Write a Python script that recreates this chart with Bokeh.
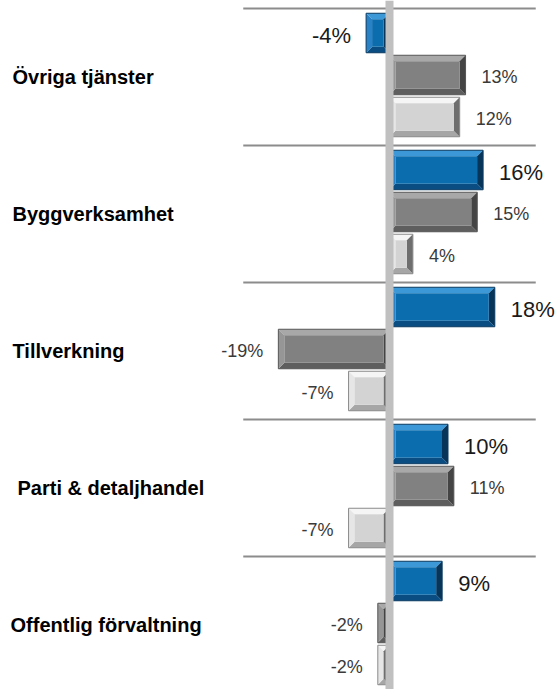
from bokeh.plotting import figure
from bokeh.models import ColumnDataSource, Range1d, Span
from bokeh.core.properties import value
from bokeh.embed import file_html
from bokeh.resources import INLINE

# ---------------- data ----------------
categories = ["Övriga tjänster", "Byggverksamhet", "Tillverkning",
              "Parti & detaljhandel", "Offentlig förvaltning"]
series_blue = [-4, 16, 18, 10, 9]
series_dark = [13, 15, -19, 11, -2]
series_light = [12, 4, -7, -7, -2]
all_series = [series_blue, series_dark, series_light]

# ---------------- layout / style ----------------
W, H = 555, 689
PX_PER_UNIT = 5.85          # px per percentage point
ZERO_PX = 389               # x pixel of zero inside the figure
BAND_PX = 137               # px per category band
TOP_PX = 8                  # px of the first band's top
x_start = -ZERO_PX / PX_PER_UNIT
x_end = x_start + W / PX_PER_UNIT
y_top = -TOP_PX / BAND_PX
y_bottom = (H - TOP_PX) / BAND_PX

OFF0, STEP, BAR_H = 24.5, 42.0, 39.5   # px within band
BEV_PX_X, BEV_PX_Y = 6.0, 6.0

styles = [
    dict(face="#0b6cae", top="#3d98d8", left="#2a82c6", bottom="#0a4d82", right="#07355a", line="#0a3a60"),
    dict(face="#818181", top="#a8a8a8", left="#969696", bottom="#5e5e5e", right="#444444", line="#555555"),
    dict(face="#d3d3d3", top="#f5f5f5", left="#e6e6e6", bottom="#a6a6a6", right="#6e6e6e", line="#8a8a8a"),
]
label_sizes = ["22px", "18px", "18px"]
label_colors = ["#1a1a1a", "#3a3a3a", "#3a3a3a"]
cat_x_offsets = [12, 12, 12, 17, 10]

p = figure(width=W, height=H, output_backend="svg", toolbar_location=None,
           x_range=Range1d(x_start, x_end), y_range=Range1d(y_bottom, y_top),
           min_border=0, outline_line_color=None)
p.axis.visible = False
p.grid.visible = False
p.background_fill_color = "white"

# separators
sep_src = ColumnDataSource(dict(x0=[-25] * len(categories), x1=[25] * len(categories),
                                y=[float(i) for i in range(len(categories))]))
p.segment(x0="x0", x1="x1", y0="y", y1="y", source=sep_src,
          line_color="#8c8c8c", line_width=2)

bx = BEV_PX_X / PX_PER_UNIT
by = BEV_PX_Y / BAND_PX

poly_xs, poly_ys, poly_col = [], [], []
face = dict(l=[], r=[], t=[], b=[], c=[])
out = dict(l=[], r=[], t=[], b=[], lc=[])
lab = dict(x=[], y=[], text=[], align=[], xoff=[], size=[], color=[])

for j, ser in enumerate(all_series):
    st = styles[j]
    for i, v in enumerate(ser):
        L, R = min(0, v), max(0, v)
        yc = i + (OFF0 + STEP * j) / BAND_PX
        T = yc - BAR_H / 2 / BAND_PX
        B = yc + BAR_H / 2 / BAND_PX
        ex = min(bx, (R - L) / 2)
        ey = min(by, (B - T) / 2)
        poly_xs += [[L, R, R - ex, L + ex], [L, R, R - ex, L + ex],
                    [L, L + ex, L + ex, L], [R, R - ex, R - ex, R]]
        poly_ys += [[T, T, T + ey, T + ey], [B, B, B - ey, B - ey],
                    [T, T + ey, B - ey, B], [T, T + ey, B - ey, B]]
        poly_col += [st["top"], st["bottom"], st["left"], st["right"]]
        face["l"].append(L + ex); face["r"].append(R - ex)
        face["t"].append(T + ey); face["b"].append(B - ey)
        face["c"].append(st["face"])
        out["l"].append(L); out["r"].append(R)
        out["t"].append(T); out["b"].append(B)
        out["lc"].append(st["line"])
        lab["x"].append(v); lab["y"].append(yc)
        lab["text"].append(f"{v}%")
        lab["align"].append("left" if v >= 0 else "right")
        lab["xoff"].append(16 if v >= 0 else -15)
        lab["size"].append(label_sizes[j]); lab["color"].append(label_colors[j])

p.patches(xs=poly_xs, ys=poly_ys, fill_color=poly_col, line_color=None)
p.quad(left="l", right="r", top="t", bottom="b", fill_color="c", line_color=None,
       source=ColumnDataSource(face))
p.quad(left="l", right="r", top="t", bottom="b", fill_color=None, line_color="lc",
       line_width=1, source=ColumnDataSource(out))

# zero axis
p.add_layout(Span(location=0, dimension="height", line_color="#c0c0c0", line_width=8))

# value labels
p.text(x="x", y="y", text="text", text_align="align", x_offset="xoff", y_offset=2,
       text_baseline="middle", text_font=value("Liberation Sans"),
       text_font_size="size", text_color="color", source=ColumnDataSource(lab))

# category labels
csrc = ColumnDataSource(dict(x=[x_start] * len(categories),
                             y=[i + 0.5 for i in range(len(categories))],
                             text=categories, xoff=cat_x_offsets))
p.text(x="x", y="y", text="text", x_offset="xoff", text_align="left",
       text_baseline="middle", text_font=value("Liberation Sans"),
       text_font_style="bold", text_font_size="20px", text_color="#000000", source=csrc)

open("out.html", "w").write(file_html(p, INLINE))
